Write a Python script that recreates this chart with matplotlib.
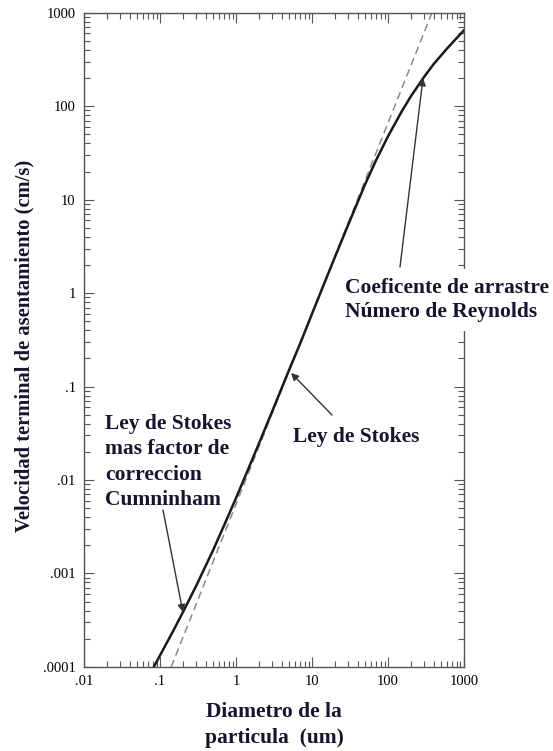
import matplotlib
matplotlib.use("Agg")
import matplotlib.pyplot as plt
from matplotlib.ticker import FixedLocator, FixedFormatter, LogLocator, NullFormatter

# Terminal settling velocity vs particle diameter
diam_um = [0.083, 0.1, 0.15, 0.2, 0.3, 0.5, 0.7, 1, 2, 3, 5, 7, 10, 15, 20, 30, 50,
           70, 100, 150, 200, 300, 400, 600, 800, 1000]
vel_cms = [1.0e-4, 1.33e-4, 2.45e-4, 3.85e-4, 7.4e-4, 1.78e-3, 3.3e-3, 6.4e-3, 2.45e-2,
           5.45e-2, 0.151, 0.29, 0.60, 1.36, 2.42, 5.4, 14.6, 26.6, 47.6, 86.7, 127.5,
           207, 283, 415, 535, 650]

# Stokes law (straight line in log-log)
stokes_diam = [0.14, 379]
stokes_vel = [1.0e-4, 1000]

x_ticks = [0.01, 0.1, 1, 10, 100, 1000]
x_labels = [".01", ".1", "1", "10", "100", "1000"]
y_ticks = [1e-4, 1e-3, 1e-2, 1e-1, 1, 10, 100, 1000]
y_labels = [".0001", ".001", ".01", ".1", "1", "10", "100", "1000"]

text_color = "#15152e"
serif = ["Liberation Serif", "DejaVu Serif"]
H = 751  # figure height in pixels, for placing labels

fig = plt.figure(figsize=(5.53, 7.51), dpi=100)
ax = fig.add_axes([0.152, 0.112, 0.687, 0.871])

ax.plot(stokes_diam, stokes_vel, color="#8a8a8a", lw=1.1, dashes=(5, 3), zorder=2)
ax.plot(diam_um, vel_cms, color="#1a1a1a", lw=1.8, zorder=3)

ax.set_xscale("log")
ax.set_yscale("log")
ax.set_xlim(0.01, 1000)
ax.set_ylim(1e-4, 1000)

ax.xaxis.set_major_locator(FixedLocator(x_ticks))
ax.xaxis.set_major_formatter(FixedFormatter(x_labels))
ax.yaxis.set_major_locator(FixedLocator(y_ticks))
ax.yaxis.set_major_formatter(FixedFormatter(y_labels))
ax.xaxis.set_minor_locator(LogLocator(base=10, subs=range(2, 10), numticks=20))
ax.yaxis.set_minor_locator(LogLocator(base=10, subs=range(2, 10), numticks=20))
ax.xaxis.set_minor_formatter(NullFormatter())
ax.yaxis.set_minor_formatter(NullFormatter())

ax.tick_params(which="both", direction="in", top=True, right=True, color="#555555", width=0.8)
ax.tick_params(which="major", length=7, labelsize=10.5, pad=6)
ax.tick_params(which="minor", length=4)
for lab in ax.get_xticklabels() + ax.get_yticklabels():
    lab.set_fontfamily(serif)
for s in ax.spines.values():
    s.set_color("#555555")
    s.set_linewidth(1.0)

ax.set_xlabel("Diametro de la\nparticula  (um)", family=serif, fontweight="bold",
              fontsize=15.5, color=text_color, labelpad=10, linespacing=1.4)
ax.set_ylabel("Velocidad terminal de asentamiento (cm/s)", family=serif,
              fontweight="bold", fontsize=14.8, color=text_color)
ax.yaxis.set_label_coords(-0.131, 0.491)

arrow = dict(arrowstyle="-|>", color="#333333", lw=1.0, mutation_scale=11,
             shrinkA=0, shrinkB=0)
label_kw = dict(family=serif, fontweight="bold", fontsize=15.5, color=text_color,
                xycoords="data", textcoords="figure pixels", annotation_clip=False)

ax.annotate("Ley de Stokes\nmas factor de\ncorreccion\nCumninham",
            xy=(0.20, 3.85e-4), xytext=(105, H - 414), ha="left", va="top",
            linespacing=1.35, **label_kw)
ax.annotate("", xy=(0.20, 3.85e-4), xytext=(163, H - 510), arrowprops=arrow,
            xycoords="data", textcoords="figure pixels")
ax.annotate("Ley de Stokes", xy=(5.5, 0.2), xytext=(293, H - 437),
            ha="left", va="center", **label_kw)
ax.annotate("", xy=(5.3, 0.14), xytext=(332, H - 415), arrowprops=arrow,
            xycoords="data", textcoords="figure pixels")
ax.annotate("", xy=(289, 200), xytext=(400, H - 267), arrowprops=arrow,
            xycoords="data", textcoords="figure pixels")
fig.text(345, H - 300, "Coeficente de arrastre\nNúmero de Reynolds",
         transform=None, ha="left", va="center", family=serif, fontweight="bold",
         fontsize=15.5, color=text_color, linespacing=1.3, zorder=10,
         bbox=dict(facecolor="white", edgecolor="none", pad=6))

fig.savefig("out.png", dpi=100, facecolor="white")
